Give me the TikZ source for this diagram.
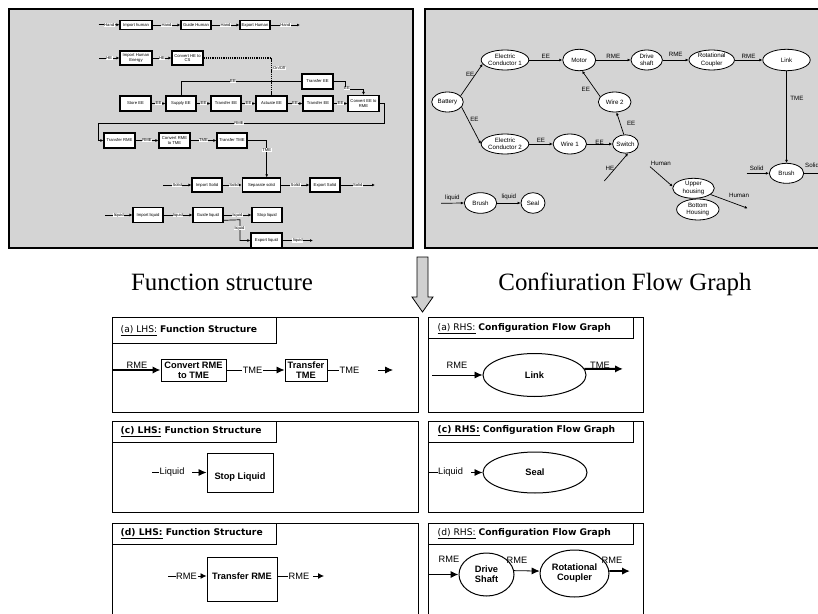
\documentclass[tikz,border=0pt]{standalone}
\usepackage{fontspec}
\setmainfont{Liberation Sans}
\newfontfamily\serifcap{Liberation Serif}
\newfontfamily\titlefont{DejaVu Sans}
\usetikzlibrary{arrows.meta,shapes.geometric,calc}

\definecolor{panelgray}{RGB}{212,212,212}
\definecolor{arrowgray}{RGB}{208,208,208}

\newcommand\fsmall{\fontsize{4.2}{4.7}\selectfont}
\newcommand\fmid{\fontsize{6.2}{7.6}\selectfont}
\newcommand\flab{\fontsize{9.3}{10.5}\selectfont}
\newcommand\fbold{\fontsize{9.3}{10}\selectfont\bfseries}
\newcommand\ftitle{\titlefont\fontsize{9.2}{10}\selectfont}
\newcommand\fcap{\serifcap\fontsize{25}{28}\selectfont}

\begin{document}
\begin{tikzpicture}[x=1bp,y=-1bp,
  sz/.style 2 args={minimum width=#1bp, minimum height=#2bp},
  fnbox/.style={draw, fill=white, line width=1.1bp, inner sep=0pt, align=center, font=\fsmall},
  flab/.style={fill=white, inner sep=0.5bp, font=\fsmall},
  ta/.style={line width=0.7bp, -{Latex[length=3bp,width=2.8bp]}},
  tl/.style={line width=0.7bp},
  dotline/.style={line width=1.6bp, dash pattern=on 1.3bp off 0.9bp},
  cfg/.style={ellipse, draw, fill=white, line width=0.8bp, inner sep=0pt, align=center, font=\fmid},
  clab/.style={font=\fmid, inner sep=0.5bp},
  frame/.style={draw, line width=1bp},
  ttl/.style={anchor=west, inner sep=0pt, font=\ftitle},
  bbox/.style={draw, line width=1bp, align=center, font=\fbold, inner sep=0pt},
  btxt/.style={align=center, font=\fbold, inner sep=0pt},
  bell/.style={ellipse, draw, line width=1bp, inner sep=0pt, align=center, font=\fbold},
  blab/.style={font=\flab, inner sep=0.5bp},
  bl/.style={line width=0.8bp},
  ba/.style={line width=0.8bp, -{Latex[length=8bp,width=7bp]}},
  bas/.style={line width=0.8bp, -{Latex[length=6bp,width=6bp]}},
  bthick/.style={line width=1.8bp, -{Latex[length=8bp,width=7.5bp]}},
]
\useasboundingbox (0,0) rectangle (818,614);
\begin{scope}
\clip (0,0) rectangle (818,614);

% ---------------- function structure panel ----------------
\fill[panelgray] (9,9) rectangle (413,248);
\draw[line width=1.2bp] (9,9) rectangle (413,248);

% human flow
\coordinate (h0) at (99,24.5);
\node[fnbox, sz={32}{9}] (ih) at (136,25) {Import human};
\node[fnbox, sz={30}{9}] (gh) at (196,25) {Guide Human};
\node[fnbox, sz={30}{9}] (eh) at (255,25) {Export Human};
\coordinate (h4) at (300,25);
\draw[ta] (h0) -- node[flab]{Hand} (ih);
\draw[ta] (ih) -- node[flab]{Hand} (gh);
\draw[ta] (gh) -- node[flab]{Hand} (eh);
\draw[ta] (eh) -- node[flab]{Hand} (h4);

% human energy
\coordinate (e0) at (99,58);
\node[fnbox, sz={32}{14}] (ihe) at (136,58) {Import Human\\Energy};
\node[fnbox, sz={31}{14}] (chc) at (187.5,58) {Convert HE to\\CS};
\draw[ta] (e0) -- node[flab]{HE} (ihe);
\draw[ta] (ihe) -- node[flab]{HE} (chc);

% electrical energy chain
\node[fnbox, sz={31}{15}] (se) at (135.5,103.5) {Store EE};
\node[fnbox, sz={30}{15}] (sup) at (181,103.5) {Supply EE};
\node[fnbox, sz={30}{15}] (te1) at (226,103.5) {Transfer EE};
\node[fnbox, sz={31}{15}] (act) at (271.5,103.5) {Actuate EE};
\node[fnbox, sz={30}{15}] (te2) at (318,103.5) {Transfer EE};
\node[fnbox, sz={31}{16}] (cer) at (363.5,103.5) {Convert EE to\\RME};
\node[fnbox, sz={31}{15}] (teu) at (317.5,81.5) {Transfer EE};
\draw[ta] (se) -- node[flab]{EE} (sup);
\draw[ta] (sup) -- node[flab]{EE} (te1);
\draw[ta] (te1) -- node[flab]{EE} (act);
\draw[ta] (act) -- node[flab]{EE} (te2);
\draw[ta] (te2) -- node[flab]{EE} (cer);
\draw[tl] (sup.north) |- (teu.west);
\node[flab] (eebus) at (233,81.5) {EE};
\draw[ta] (teu.east) -- (345,81.5) -- (345,89) -| (cer.north);
\node[flab] (eeturn) at (347,88.5) {EE};
\draw[dotline] (chc.east) -| (act.north);
\node[flab, anchor=west] (onoff) at (272.5,68) {On/Off};

% mechanical energy
\node[fnbox, sz={31}{15}] (trme) at (119.5,140.5) {Transfer RME};
\node[fnbox, sz={31}{15}] (crt) at (174.5,140.5) {Convert RME\\to TME};
\node[fnbox, sz={30}{15}] (ttme) at (232,140.5) {Transfer TME};
\draw[ta] (cer.east) -- (384,103.5) -- (384,123) -- (98,123) |- (trme.west);
\node[flab] (rmebus) at (239,123) {RME};
\draw[ta] (trme) -- node[flab]{RME} (crt);
\draw[ta] (crt) -- node[flab]{TME} (ttme);

% solid flow
\coordinate (s0) at (163,185);
\node[fnbox, sz={30}{14}] (isol) at (207,185) {Import Solid};
\node[fnbox, sz={38.5}{14}] (sep) at (261.5,185) {Separate solid};
\node[fnbox, sz={30}{14}] (esol) at (325,185) {Export Solid};
\coordinate (s4) at (375,185);
\draw[ta] (ttme.east) -| ($(sep.north)+(5.2,0)$);
\node[flab] (tmev) at (266.7,150) {TME};
\draw[ta] (s0) -- node[flab]{Solid} (isol);
\draw[ta] (isol) -- node[flab, pos=0.6]{Solid} (sep);
\draw[ta] (sep) -- node[flab]{Solid} (esol);
\draw[ta] (esol) -- node[flab]{Solid} (s4);

% liquid flow
\coordinate (l0) at (105,215);
\node[fnbox, sz={30}{15.5}] (il) at (148,215) {Import liquid};
\node[fnbox, sz={30}{15.5}] (gl) at (208,215) {Guide liquid};
\node[fnbox, sz={30}{15.5}] (sl) at (267,215) {Stop liquid};
\node[fnbox, sz={31}{15}] (el) at (266.5,240.5) {Export liquid};
\coordinate (l4) at (313,240.5);
\draw[ta] (l0) -- node[flab]{liquid} (il);
\draw[ta] (il) -- node[flab]{liquid} (gl);
\draw[ta] (gl) -- node[flab]{liquid} (sl);
\draw[ta] ($(gl.south east)+(0,-3)$) -- (240,219.75) |- (el.west);
\node[flab] (lqv) at (239.5,228) {liquid};
\draw[ta] (el) -- node[flab]{liquid} (l4);

% ---------------- configuration flow graph panel ----------------
\fill[panelgray] (425,9) rectangle (830,248);
\draw[line width=1.2bp] (830,9) -- (425,9) -- (425,248) -- (830,248);

\node[cfg, sz={31.6}{20}] (bat) at (447.5,102) {Battery};
\node[cfg, sz={46.6}{20}] (ec1) at (505,60) {Electric\\Conductor 1};
\node[cfg, sz={33}{21.4}] (mot) at (579.2,60) {Motor};
\node[cfg, sz={31.4}{20}] (ds) at (646.7,60) {Drive\\shaft};
\node[cfg, sz={45.4}{20}] (rc) at (711.7,60) {Rotational\\Coupler};
\node[cfg, sz={47.4}{21.4}] (lk) at (786.5,60) {Link};
\node[cfg, sz={32.7}{20}] (w2) at (614.7,102) {Wire 2};
\node[cfg, sz={46.6}{20}] (ec2) at (505,144) {Electric\\Conductor 2};
\node[cfg, sz={33.4}{20}] (w1) at (569.8,144) {Wire 1};
\node[cfg, sz={24.4}{18.4}] (sw) at (625.5,144) {Switch};
\node[cfg, sz={32.4}{20.6}] (br1) at (480.5,203) {Brush};
\node[cfg, sz={24}{20.6}] (seal) at (533,203) {Seal};
\node[cfg, sz={42.4}{21}] (bh) at (697.8,209.5) {Bottom\\Housing};
\node[cfg, sz={41.6}{20}] (uh) at (693.5,188.3) {Upper\\housing};
\node[cfg, sz={34.4}{20}] (br2) at (786.5,173.3) {Brush};

\draw[ta] (bat.25) -- node[clab, left, pos=0.66]{EE} (ec1.190);
\draw[ta] (bat.-20) -- node[clab, right=1.5bp, pos=0.33]{EE} (ec2.180);
\draw[ta] (ec1) -- node[clab, above=1bp]{EE} (mot);
\draw[ta] (mot) -- node[clab, above=1bp]{RME} (ds);
\draw[ta] (ds) -- node[clab, above=2.5bp]{RME} (rc);
\draw[ta] (rc) -- node[clab, above=1bp]{RME} (lk);
\draw[ta] (w2.160) -- node[clab, left=4bp, pos=0.3]{EE} (mot.-75);
\draw[ta] (sw.100) -- node[clab, right=6bp, pos=0.5]{EE} (w2.-80);
\draw[ta] (ec2) -- node[clab, above=1bp]{EE} (w1);
\draw[ta] (w1) -- node[clab, yshift=2bp]{EE} (sw);
\coordinate (he) at (604.3,181);
\draw[ta] (he) -- node[clab, left, pos=0.45]{HE} (sw.-75);
\draw[ta] (lk.south) -- node[clab, right=3bp, pos=0.3]{TME} (br2.north);
\coordinate (sin) at (746.7,173.3);
\coordinate (sout) at (830,173.3);
\draw[ta] (sin) -- node[clab, above=2bp, pos=0.45]{Solid} (br2.west);
\draw[ta] (br2.east) -- (sout);
\node[clab, anchor=south west] (solidout) at (804.5,168) {Solid};
\coordinate (lin) at (441,203.3);
\draw[ta] (lin) -- node[clab, above=2bp]{liquid} (br1.west);
\draw[ta] (br1) -- node[clab, above=2bp]{liquid} (seal);
\coordinate (hm) at (650,166.7);
\draw[ta] (hm) node[clab, anchor=south west]{Human} -- (uh.175);
\coordinate (hout) at (747.7,208.3);
\draw[ta] (uh.-20) -- (hout);
\node[clab] (humanout) at (739,195) {Human};

% ---------------- captions and transition arrow ----------------
\draw[fill=arrowgray, line width=0.8bp] (417,257) -- (428,257) -- (428,297) -- (433,297)
  -- (422.5,312) -- (412,297) -- (417,297) -- cycle;
\node[font=\fcap, anchor=base] (capfs) at (222,290) {Function structure};
\node[font=\fcap, anchor=base] (capcfg) at (625,290) {Confiuration Flow Graph};

% ---------------- rule (a) ----------------
\draw[frame] (112,317) rectangle (418,412);
\draw[frame] (112,317) rectangle (276,343);
\node[ttl] (ta1) at (120.5,330.5) {\underline{(a) LHS:} \textbf{Function Structure}};
\node[bbox, sz={65}{22}] (aconv) at (193.5,370) {Convert RME\\to TME};
\node[bbox, sz={42}{22}] (atr) at (306,370) {Transfer\\TME};
\coordinate (ain) at (113,370);
\draw[bthick] (ain) -- (aconv.west);
\node[blab, anchor=south] (armein) at (137,369.5) {RME};
\draw[ba] (aconv.east) -- node[blab, fill=white, pos=0.45]{TME} (atr.west);
\coordinate (aout1) at (339,370);
\coordinate (aout2) at (378,370);
\coordinate (aout3) at (393,370);
\draw[bl] (atr.east) -- (aout1);
\node[blab, anchor=west] (atmeout) at (aout1) {TME};
\draw[ba] (aout2) -- (aout3);

\draw[frame] (428,317) rectangle (643,412);
\draw[frame] (428,317) rectangle (633,338);
\node[ttl] (ta2) at (437.5,328.5) {\underline{(a) RHS:} \textbf{Configuration Flow Graph}};
\node[bell, sz={103}{43}] (blink) at (534.5,375) {Link};
\coordinate (bin) at (432,375);
\draw[ba] (bin) -- (blink.west);
\node[blab, anchor=south] (brmein) at (457,369) {RME};
\coordinate (bout) at (623,368.9);
\draw[bthick] (blink.7) -- (bout);
\node[blab, anchor=south] (btmeout) at (600,369) {TME};

% ---------------- rule (c) ----------------
\draw[frame] (112,421) rectangle (418,512);
\draw[frame] (112,421) rectangle (276,442);
\node[ttl] (tc1) at (120.5,431.5) {\bfseries\underline{(c) LHS:} Function Structure};
\node[bbox, sz={66}{39}] (cstop) at (240,472.5) {};
\node[btxt] (cstoptxt) at (240,477) {Stop Liquid};
\coordinate (cl0) at (152,472.5);
\coordinate (cl1) at (159,472.5);
\coordinate (cl2) at (192,472.5);
\draw[bl] (cl0) -- (cl1);
\node[blab, anchor=west] (cliq) at (cl1) {Liquid};
\draw[ba] (cl2) -- (cstop.west);

\draw[frame] (428,421) rectangle (643,512);
\draw[frame] (428,421) rectangle (633,442);
\node[ttl] (tc2) at (437.5,431) {\bfseries\underline{(c) RHS:} Configuration Flow Graph};
\node[bell, sz={104}{41}] (cseal) at (535,472.5) {Seal};
\coordinate (cr0) at (428,472.5);
\coordinate (cr1) at (437.5,472.5);
\coordinate (cr2) at (471,472.5);
\draw[bl] (cr0) -- (cr1);
\node[blab, anchor=west] (criq) at (cr1) {Liquid};
\draw[ba] (cr2) -- (cseal.west);

% ---------------- rule (d) ----------------
\draw[frame] (112,523) rectangle (418,640);
\draw[frame] (112,523) rectangle (276,544);
\node[ttl] (td1) at (120.5,534) {\bfseries\underline{(d) LHS:} Function Structure};
\node[bbox, sz={70}{44}] (dtr) at (242,579) {};
\node[btxt] (dtrtxt) at (242,576) {Transfer RME};
\coordinate (dl0) at (168,576);
\coordinate (dl1) at (175.5,576);
\coordinate (dl2) at (198,576);
\draw[bl] (dl0) -- (dl1);
\node[blab, anchor=west] (drmein) at (dl1) {RME};
\draw[bas] (dl2) -- ($(dtr.west)+(0,-3)$);
\coordinate (dl3) at (288,576);
\coordinate (dl4) at (313,576);
\coordinate (dl5) at (324,576);
\draw[bl] ($(dtr.east)+(0,-3)$) -- (dl3);
\node[blab, anchor=west] (drmeout) at (dl3) {RME};
\draw[bas] (dl4) -- (dl5);

\draw[frame] (428,523) rectangle (643,640);
\draw[frame] (428,523) rectangle (633,544);
\node[ttl] (td2) at (437.5,534) {\underline{(d) RHS:} \textbf{Configuration Flow Graph}};
\node[bell, sz={55}{43}] (dds) at (486.5,574.5) {Drive\\Shaft};
\node[bell, sz={69}{47}] (drc) at (574.5,573.5) {Rotational\\Coupler};
\coordinate (ddin) at (429,574.5);
\draw[bthick] (ddin) -- (dds.west);
\node[blab] (ddl1) at (449,559) {RME};
\draw[ba] (dds.8) -- (drc.176);
\node[blab] (ddl2) at (517,560) {RME};
\coordinate (ddout) at (630,571.1);
\draw[bthick] (drc.4) -- (ddout);
\node[blab] (ddl3) at (612,560) {RME};
\end{scope}
\end{tikzpicture}
\end{document}
